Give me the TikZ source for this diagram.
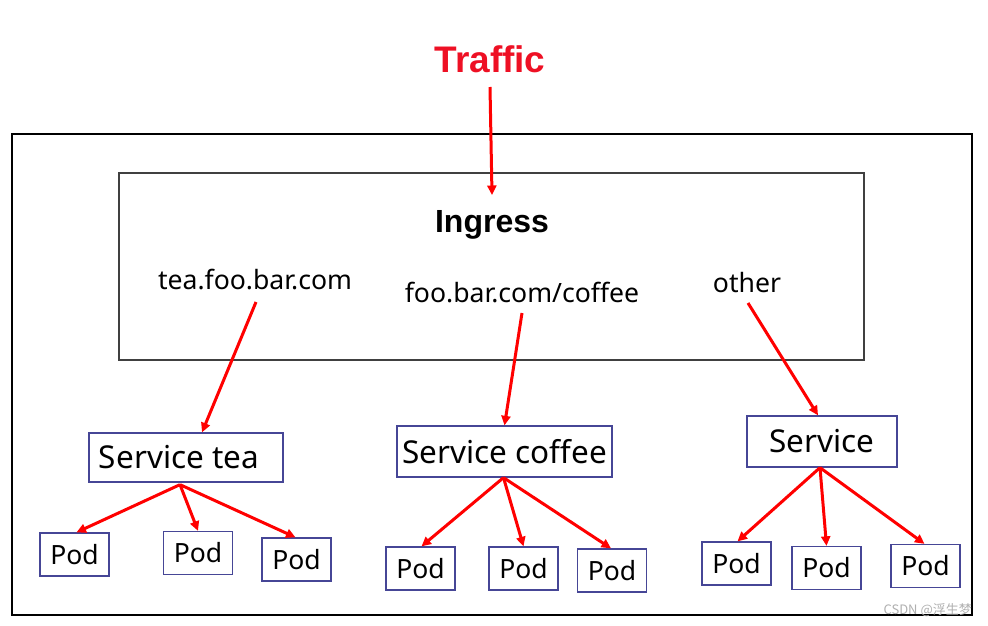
\documentclass[tikz,border=0pt]{standalone}
\usepackage{fontspec}
\setmainfont{Noto Sans}
\newfontfamily\boldsans{Liberation Sans}
\newfontfamily\cjkwm{Noto Sans CJK SC}
\usetikzlibrary{arrows.meta}
\definecolor{tred}{RGB}{238,16,36}
\definecolor{ared}{RGB}{255,0,0}
\definecolor{svblue}{RGB}{70,70,150}
\definecolor{wmgray}{RGB}{175,175,175}
\tikzset{
  arr/.style={draw=ared,line width=3pt,-{Triangle[length=9.5pt,width=9pt]}},
  lbl/.style={anchor=base,inner sep=0pt,font=\fontsize{26.6}{30}\selectfont},
  svbox/.style={draw=svblue,line width=1.3pt,inner sep=0pt,font=\fontsize{31.5}{36}\selectfont},
  podbox/.style={draw=svblue,line width=1.3pt,inner sep=0pt,minimum width=69pt,minimum height=43pt,font=\fontsize{26.5}{30}\selectfont}
}
\begin{document}
\begin{tikzpicture}[x=1pt,y=-1pt]
\useasboundingbox (0,0) rectangle (988,626);
% frames
\draw[line width=1.8pt,black] (12,134) rectangle (972,615);
\draw[line width=1.3pt,black!75] (119,173) rectangle (864,360);
% texts
\node[anchor=base,inner sep=0pt,text=tred,font=\boldsans\bfseries\fontsize{37}{42}\selectfont] (traffic) at (490,73) {Traffic};
\node[anchor=base,inner sep=0pt,font=\boldsans\bfseries\fontsize{32}{36}\selectfont] (ingress) at (492,232) {Ingress};
\node[lbl] (tea) at (255,289) {tea.foo.bar.com};
\node[lbl] (coffee) at (522,302) {foo.bar.com/coffee};
\node[lbl] (other) at (747,292) {other};
% services
\node[svbox,minimum width=194pt,minimum height=49pt] (svtea) at (186,457.5) {Service tea\hspace{14pt}\mbox{}};
\node[svbox,minimum width=215pt,minimum height=51pt] (svcof) at (504.5,451.5) {Service coffee};
\node[svbox,minimum width=150pt,minimum height=51pt] (svoth) at (822,441.5) {Service};
% pods
\node[podbox] (pt1) at (74.5,554.5) {Pod};
\node[podbox] (pt2) at (198,553) {Pod};
\node[podbox] (pt3) at (296.5,559.5) {Pod};
\node[podbox] (pc1) at (420.5,568.5) {Pod};
\node[podbox] (pc2) at (523.5,568.5) {Pod};
\node[podbox] (pc3) at (612,570.5) {Pod};
\node[podbox] (po1) at (736.5,563.5) {Pod};
\node[podbox] (po2) at (826.5,568) {Pod};
\node[podbox] (po3) at (925.5,566) {Pod};
% arrows
\draw[arr] ([yshift=-14pt]traffic.base) -- ([yshift=37pt]ingress.base);
\draw[arr] ([xshift=1pt,yshift=-13pt]tea.base) -- ([xshift=16pt]svtea.north);
\draw[arr] ([yshift=-11pt]coffee.base) -- (svcof.north);
\draw[arr] ([xshift=1pt,yshift=-11pt]other.base) -- ([xshift=-4pt]svoth.north);
\draw[arr] ([xshift=-6pt,yshift=-2pt]svtea.south) -- ([xshift=2pt]pt1.north);
\draw[arr] ([xshift=-6pt,yshift=-2pt]svtea.south) -- (pt2.north);
\draw[arr] ([xshift=-6pt,yshift=-2pt]svtea.south) -- ([xshift=-1pt]pt3.north);
\draw[arr] ([xshift=-1pt]svcof.south) -- ([xshift=1pt]pc1.north);
\draw[arr] ([xshift=-1pt]svcof.south) -- (pc2.north);
\draw[arr] ([xshift=-1pt]svcof.south) -- ([xshift=-1pt]pc3.north);
\draw[arr] ([xshift=-2pt]svoth.south) -- ([xshift=1pt]po1.north);
\draw[arr] ([xshift=-2pt]svoth.south) -- (po2.north);
\draw[arr] ([xshift=-2pt]svoth.south) -- ([xshift=-1pt]po3.north);
% watermark
\node[anchor=base east,inner sep=0pt,text=wmgray,font=\cjkwm\fontsize{13}{15}\selectfont] (wm) at (972,614) {CSDN @浮生梦};
\end{tikzpicture}
\end{document}
